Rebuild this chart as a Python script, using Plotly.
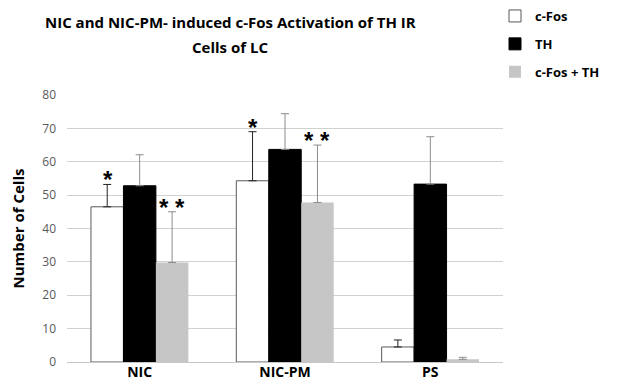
import plotly.graph_objects as go

categories = ["NIC", "NIC-PM", "PS"]
cfos = [46.5, 54.3, 4.5]
cfos_err = [6.7, 14.7, 2.1]
th = [52.8, 63.7, 53.3]
th_err = [9.3, 10.7, 14.2]
both = [29.8, 47.8, 0.8]
both_err = [15.2, 17.2, 0.6]
tick_vals = [0, 10, 20, 30, 40, 50, 60, 70, 80]
series_names = ["c-Fos", "TH", "c-Fos + TH"]
title_lines = ["NIC and NIC-PM- induced c-Fos Activation of TH IR", "Cells of LC"]

FONT = "Open Sans"
# the page body has an 8px default margin, so the figure is drawn 8px smaller
W, H = 612, 381
L, R, T, B = 59, 117, 87, 27
PW, PH = W - L - R, H - T - B

fig = go.Figure()
fig.add_bar(name="<b>%s</b>" % series_names[0], x=categories, y=cfos, legendgroup="a",
            marker=dict(color="white", line=dict(color="#595959", width=1)),
            error_y=dict(type="data", array=cfos_err, arrayminus=[0]*3, symmetric=False,
                         color="#222222", thickness=1, width=4))
fig.add_bar(name="<b>%s</b>" % series_names[1], x=categories, y=th, legendgroup="b",
            marker=dict(color="black", line=dict(color="black", width=1)),
            error_y=dict(type="data", array=th_err, arrayminus=[0]*3, symmetric=False,
                         color="#8c8c8c", thickness=1, width=4))
fig.add_bar(name="<b>%s</b>" % series_names[2], x=categories, y=both, legendgroup="c",
            marker=dict(color="#c6c6c6", line=dict(color="#c6c6c6", width=0)),
            error_y=dict(type="data", array=both_err, arrayminus=[0]*3, symmetric=False,
                         color="#8c8c8c", thickness=1, width=4))

# significance markers
sig = [("NIC", cfos[0] + cfos_err[0], -32, "*"),
       ("NIC", both[0] + both_err[0], 32, "* *"),
       ("NIC-PM", cfos[1] + cfos_err[1], -32, "*"),
       ("NIC-PM", both[1] + both_err[1], 32, "* *")]
for cat, yv, sh, txt in sig:
    fig.add_annotation(x=cat, y=yv, xshift=sh, yshift=-11, text="<b>%s</b>" % txt, showarrow=False,
                       yanchor="bottom",
                       font=dict(size=24, color="black", family="Liberation Sans"))

for i, line in enumerate(title_lines):
    fig.add_annotation(text="<b>%s</b>" % line, xref="paper", yref="paper",
                       x=(222 - L) / PW, y=(H - B - (14 + 25 * i)) / PH,
                       xanchor="center", yanchor="middle", showarrow=False,
                       font=dict(size=15, family=FONT, color="black"))

fig.update_layout(
    width=W, height=H,
    margin=dict(l=L, r=R, t=T, b=B, autoexpand=False),
    plot_bgcolor="white", paper_bgcolor="white",
    barmode="group", bargap=0.33, bargroupgap=0,
    font=dict(family=FONT, color="black"),
    legend=dict(x=(487 - L) / PW, xref="paper", y=1 + (T + 7) / PH, yref="paper", yanchor="top",
                xanchor="left", traceorder="grouped", tracegroupgap=8, itemwidth=30,
                font=dict(size=13, family=FONT, color="black"),
                bgcolor="rgba(0,0,0,0)"),
    showlegend=True,
)
fig.update_xaxes(showline=False, ticks="", showgrid=False, automargin=False,
                 tickfont=dict(size=14, family=FONT, color="black"),
                 tickprefix="<b>", ticksuffix="</b>")
fig.update_yaxes(range=[0, 80], tickvals=tick_vals, showgrid=True, gridcolor="#ccd4cc",
                 gridwidth=1, zeroline=True, zerolinecolor="#c8c8c8", zerolinewidth=1,
                 automargin=False, ticklabelstandoff=10,
                 tickfont=dict(size=12, color="#595959", family=FONT), ticks="",
                 title=dict(text="<b>Number of Cells</b>", standoff=16,
                            font=dict(size=15, family=FONT, color="black")))

fig.write_html("out.html")
